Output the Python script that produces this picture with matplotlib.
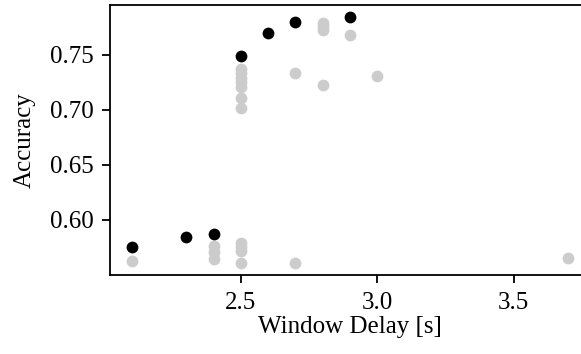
import matplotlib.pyplot as plt

plt.rcParams["font.family"] = ["Liberation Serif", "DejaVu Serif"]
plt.rcParams["mathtext.fontset"] = "stix"

# all runs (gray)
all_delay = [2.1, 2.4, 2.4, 2.4, 2.5, 2.5, 2.5, 2.5, 2.7, 3.7,
             2.5, 2.5, 2.5, 2.5, 2.5, 2.5, 2.5,
             2.7, 2.8, 2.8, 2.8, 2.8, 2.9, 3.0]
all_acc = [0.563, 0.576, 0.5713, 0.5644, 0.5789, 0.5753, 0.5722, 0.5613, 0.5613, 0.565,
           0.737, 0.733, 0.729, 0.725, 0.721, 0.711, 0.7015,
           0.7337, 0.779, 0.776, 0.772, 0.7223, 0.768, 0.7304]

# best run per delay (black)
best_delay = [2.1, 2.3, 2.4, 2.5, 2.6, 2.7, 2.9]
best_acc = [0.5755, 0.5846, 0.5876, 0.7488, 0.770, 0.780, 0.784]

fig = plt.figure(figsize=(5.81, 3.54), dpi=100)
ax = fig.add_axes([110 / 581, 79 / 354, 480 / 581, 270 / 354])

ax.scatter(all_delay, all_acc, s=72, color="#cccccc", linewidths=0, zorder=2)
ax.scatter(best_delay, best_acc, s=72, color="black", linewidths=0, zorder=3)

ax.set_xlim(2.02, 3.78)
ax.set_ylim(0.550, 0.795)
ax.set_xticks([2.5, 3.0, 3.5])
ax.set_yticks([0.60, 0.65, 0.70, 0.75])
ax.set_xlabel("Window Delay [s]", fontsize=18, labelpad=2)
ax.set_ylabel("Accuracy", fontsize=18, labelpad=10)
ax.tick_params(labelsize=18, length=6, width=1.3, pad=6)
for sp in ax.spines.values():
    sp.set_linewidth(1.3)

fig.savefig("out.png", dpi=100)
